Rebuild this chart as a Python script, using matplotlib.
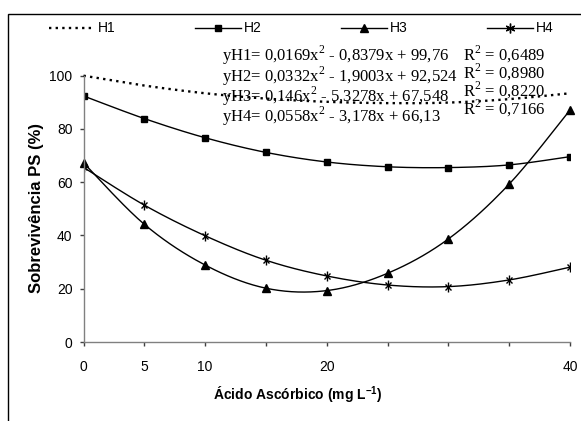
import numpy as np
import matplotlib
matplotlib.use("Agg")
import matplotlib.pyplot as plt
from matplotlib.patches import Rectangle
from matplotlib.lines import Line2D
from matplotlib import font_manager

# dados
dose = [0, 5, 10, 15, 20, 25, 30, 35, 40]
tick_labels = ["0", "5", "10", "", "20", "", "", "", "40"]
h1 = [100.0, 96.3, 93.4, 91.4, 90.2, 89.7, 89.9, 91.2, 93.4]
h2 = [92.4, 83.9, 76.7, 71.2, 67.6, 65.8, 65.5, 66.5, 69.6]
h3 = [67.3, 44.2, 28.9, 20.2, 19.3, 25.8, 38.7, 59.3, 87.1]
h4 = [65.6, 51.4, 39.9, 30.7, 24.8, 21.4, 20.8, 23.3, 28.1]
series_names = ["H1", "H2", "H3", "H4"]
equations = [
    "yH1= 0,0169x$^{\\mathregular{2}}$ - 0,8379x + 99,76",
    "yH2= 0,0332x$^{\\mathregular{2}}$ - 1,9003x + 92,524",
    "yH3= 0,146x$^{\\mathregular{2}}$ - 5,3278x + 67,548",
    "yH4= 0,0558x$^{\\mathregular{2}}$ - 3,178x + 66,13",
]
r2_texts = ["R$^{\\mathregular{2}}$ = 0,6489", "R$^{\\mathregular{2}}$ = 0,8980",
            "R$^{\\mathregular{2}}$ = 0,8220", "R$^{\\mathregular{2}}$ = 0,7166"]

installed = {f.name for f in font_manager.fontManager.ttflist}
if "Liberation Sans Narrow" in installed:
    sans = ["Liberation Sans Narrow", "DejaVu Sans"]
else:
    sans = ["Liberation Sans", "DejaVu Sans"]
serif = ["Liberation Serif", "DejaVu Serif"]
plt.rcParams["mathtext.fontset"] = "custom"
plt.rcParams["mathtext.rm"] = "Liberation Serif"


def smooth(x, y, n=20):
    # linha suavizada estilo Excel (Bezier pelos vizinhos)
    P = np.column_stack([np.asarray(x, float), np.asarray(y, float)])
    P = np.vstack([P[0], P, P[-1]])
    t = np.linspace(0, 1, n)[:, None]
    out = []
    for i in range(1, len(P) - 2):
        p0, p1, p2, p3 = P[i - 1], P[i], P[i + 1], P[i + 2]
        b1 = p1 + (p2 - p0) / 6
        b2 = p2 - (p3 - p1) / 6
        seg = (1 - t) ** 3 * p1 + 3 * (1 - t) ** 2 * t * b1 + 3 * (1 - t) * t ** 2 * b2 + t ** 3 * p2
        out.append(seg)
    s = np.vstack(out)
    return s[:, 0], s[:, 1]


W, H = 581, 421
fig = plt.figure(figsize=(W / 100, H / 100), dpi=100)
fig.add_artist(Rectangle((8 / W, -0.1), 1.2, 1 - 14 / H + 0.1, fill=False,
                         lw=1.0, ec="black", transform=fig.transFigure))

x0, x1, y0, y1 = 83.5, 570, 342, 75.7
ax = fig.add_axes([x0 / W, 1 - y0 / H, (x1 - x0) / W, (y0 - y1) / H])
ax.set_xlim(0, 40)
ax.set_ylim(0, 100)

dots = (0, (1.0, 1.8))
xs, ys = smooth(dose, h1)
ax.plot(xs, ys, color="black", lw=1.7, ls=dots, clip_on=False)
xs, ys = smooth(dose, h2)
ax.plot(xs, ys, color="black", lw=1.0)
ax.plot(dose, h2, ls="none", marker="s", ms=5, color="black")
xs, ys = smooth(dose, h3)
ax.plot(xs, ys, color="black", lw=1.0)
ax.plot(dose, h3, ls="none", marker="^", ms=6, color="black", clip_on=False)
xs, ys = smooth(dose, h4)
ax.plot(xs, ys, color="black", lw=1.0)
ax.plot(dose, h4, ls="none", marker="x", ms=5, mew=1.0, color="black")
ax.plot(dose, h4, ls="none", marker="|", ms=7, mew=1.0, color="black")

for s in ["top", "right"]:
    ax.spines[s].set_visible(False)
for s in ["left", "bottom"]:
    ax.spines[s].set_color("#808080")
    ax.spines[s].set_linewidth(1.0)

ax.set_xticks(dose)
ax.set_xticklabels(tick_labels, family=sans, fontsize=10)
ax.set_yticks([0, 20, 40, 60, 80, 100])
ax.set_yticklabels(["0", "20", "40", "60", "80", "100"], family=sans, fontsize=10)
ax.tick_params(direction="out", length=3, width=1, color="#404040")
ax.tick_params(axis="x", pad=10)
ax.tick_params(axis="y", pad=5)

fig.text(37 / W, 1 - 208 / H, "Sobrevivência PS (%)", family=sans, fontsize=12,
         fontweight="bold", rotation=90, ha="center", va="center")
fig.text(298 / W, 1 - 395 / H, "Ácido Ascórbico (mg L$^{\\mathregular{-1}}$)", family=sans,
         fontsize=10, fontweight="bold", ha="center", va="center")

# legenda desenhada a mao
styles = [
    dict(ls=dots, lw=1.7),
    dict(ls="-", lw=1.0, marker="s", ms=5),
    dict(ls="-", lw=1.0, marker="^", ms=6),
    dict(ls="-", lw=1.0, marker=(6, 2, 0), ms=7, mew=1.0),
]
leg_y = 1 - 28 / H
for k, (name, st) in enumerate(zip(series_names, styles)):
    xa = 49 + 146 * k
    xb = xa + 46
    fig.add_artist(Line2D([xa / W, xb / W], [leg_y, leg_y], color="black",
                          ls=st["ls"], lw=st["lw"], transform=fig.transFigure))
    if "marker" in st:
        fig.add_artist(Line2D([(xa + xb) / 2 / W], [leg_y], color="black", ls="none",
                              marker=st["marker"], ms=st["ms"], mew=st.get("mew", 1.0),
                              transform=fig.transFigure))
    fig.text((xb + 3) / W, leg_y, name, family=sans, fontsize=10, va="center")

# equacoes (um bloco por coluna)
eq_top = 44
fig.text(222 / W, 1 - eq_top / H, "\n".join(equations), family=serif, fontsize=12,
         va="top", linespacing=0.82)
fig.text(463 / W, 1 - eq_top / H, "\n".join(r2_texts), family=serif, fontsize=12,
         va="top", linespacing=0.82)

fig.savefig("out.png", dpi=100)
